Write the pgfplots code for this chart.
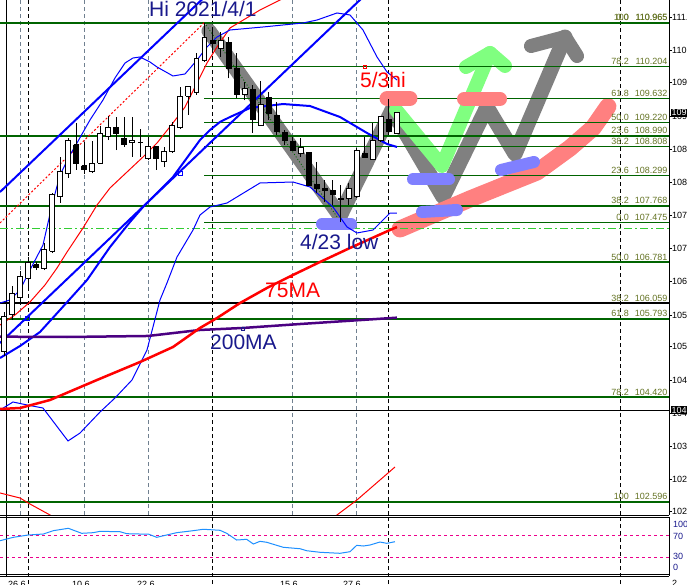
\documentclass[border=0pt]{standalone}
\usepackage{fontspec}
\setmainfont{Liberation Sans}
\usepackage{pgfplots}
\usepackage{pgfplotstable}
\pgfplotsset{compat=1.18}

\definecolor{dgreen}{RGB}{0,100,0}
\definecolor{fibtxt}{RGB}{100,115,35}
\definecolor{navytxt}{RGB}{25,25,140}
\definecolor{indigo}{RGB}{75,0,130}
\definecolor{slate}{RGB}{112,128,144}
\definecolor{lime}{RGB}{50,205,50}
\definecolor{rsiblue}{RGB}{30,144,255}
\definecolor{strokegray}{RGB}{128,128,128}
\definecolor{strokegreen}{RGB}{128,255,128}
\definecolor{strokered}{RGB}{255,128,128}
\definecolor{strokeblue}{RGB}{128,128,255}

% bar index, open, high, low, close
\pgfplotstableread{
i o h l c
0 105.215 105.909 105.140 105.827
1 105.857 106.364 105.769 106.241
2 106.154 106.626 106.032 106.521
3 106.503 106.870 106.346 106.766
4 106.731 106.783 106.643 106.678
5 106.661 107.115 106.643 107.010
6 106.975 107.990 106.940 107.971
7 107.919 108.618 107.814 108.373
8 108.321 108.950 108.251 108.915
9 108.828 109.212 108.391 108.496
10 108.461 108.880 108.321 108.391
11 108.356 108.898 108.338 108.496
12 108.513 109.160 108.496 109.020
13 108.968 109.335 108.915 109.125
14 109.142 109.317 108.740 109.020
15 108.950 109.317 108.793 108.845
16 108.863 109.317 108.618 108.898
17 108.868 109.107 108.618 108.868
18 108.583 108.968 108.566 108.810
19 108.793 108.810 108.391 108.583
20 108.531 108.793 108.443 108.706
21 108.706 109.230 108.688 109.160
22 109.125 109.842 109.107 109.667
23 109.684 109.859 109.352 109.842
24 109.737 110.436 109.702 110.348
25 110.313 110.965 110.278 110.698
26 110.651 110.895 110.488 110.605
27 110.518 110.808 110.371 110.651
28 110.616 110.721 109.994 110.168
29 110.168 110.430 109.649 109.719
30 109.719 109.934 109.614 109.819
31 109.789 109.876 109.038 109.265
32 109.177 109.946 109.160 109.527
33 109.661 109.759 109.265 109.382
34 109.347 109.585 109.003 109.060
35 109.038 109.090 108.828 108.915
36 108.886 108.973 108.723 108.728
37 108.683 108.945 108.623 108.788
38 108.700 108.705 108.111 108.117
39 108.129 108.536 107.984 108.071
40 108.071 108.216 107.837 108.029
41 108.041 108.216 107.779 107.971
42 107.896 108.129 107.475 107.867
43 107.896 108.159 107.779 108.071
44 107.924 108.770 107.902 108.740
45 108.671 108.962 108.601 108.613
46 108.578 109.207 108.566 108.915
47 108.915 109.322 108.886 109.322
48 109.265 109.632 109.003 109.060
49 109.032 109.405 109.020 109.392
}\candles

\pgfplotstableread{
i v
-0.50 60.7
1.16 67.0
3.03 71.3
4.90 73.1
6.15 79.3
8.02 83.7
9.69 74.4
11.13 75.6
11.97 78.1
14.46 77.4
15.30 73.7
16.96 73.1
17.99 73.1
19.04 67.0
20.29 71.3
21.53 75.6
23.60 79.3
24.85 81.9
26.93 80.0
27.77 74.4
29.01 62.0
30.26 63.3
31.09 54.6
31.92 59.6
32.76 57.8
34.00 52.2
34.83 48.5
36.91 45.9
37.74 42.2
39.40 39.3
41.90 37.4
43.14 40.4
43.98 52.2
44.80 50.9
45.64 52.8
46.88 58.3
47.72 55.9
48.13 57.0
48.75 58.9
}\rsi

\pgfplotsset{
  hl/.style={dgreen, line width=2pt},
  hlt/.style={dgreen, line width=1pt},
  stroke/.style={line width=#1, line cap=round, line join=round},
  vgray/.style={slate, line width=1pt, dash pattern=on 4pt off 3pt},
  vblack/.style={black, line width=1pt, dash pattern=on 4pt off 3pt},
}
\newcommand\lblfont{\fontsize{9}{10}\selectfont}
\newcommand\bigfont{\fontsize{21}{24}\selectfont}

\begin{document}
\begin{tikzpicture}
\path[use as bounding box] (0pt,0pt) rectangle (687pt,584pt);
\fill[white] (0pt,0pt) rectangle (687pt,584pt);

\begin{axis}[
  at={(0pt,69pt)}, anchor=south west,
  scale only axis, width=669pt, height=515pt,
  xmin=-0.5, xmax=82.92, ymin=102.361, ymax=111.362,
  axis x line=none, axis y line*=right,
  y axis line style={black, line width=1pt, -},
  xtick=\empty,
  ytick={111.060,110.488,109.917,109.335,108.753,108.169,107.605,107.022,106.439,105.857,105.303,104.721,104.144,103.555,102.985,102.419},
  yticklabel style={font=\lblfont, black, anchor=west, inner sep=0pt,
    /pgf/number format/.cd, fixed, fixed zerofill, precision=3, assume math mode=true},
  tick style={black, line width=0.8pt},
  tick align=outside, major tick length=3pt,
  clip mode=individual,
]
% period separators
\addplot[vgray] coordinates {(2.08,102.361) (2.08,111.362)};
\addplot[vgray] coordinates {(10.01,102.361) (10.01,111.362)};
\addplot[vgray] coordinates {(17.99,102.361) (17.99,111.362)};
\addplot[vgray] coordinates {(35.95,102.361) (35.95,111.362)};
\addplot[vgray] coordinates {(43.93,102.361) (43.93,111.362)};
\addplot[vblack] coordinates {(3.03,102.361) (3.03,111.362)};
\addplot[vblack] coordinates {(25.97,102.361) (25.97,111.362)};
\addplot[vblack] coordinates {(47.92,102.361) (47.92,111.362)};
\addplot[vblack] coordinates {(76.89,102.361) (76.89,111.362)};
\addplot[black, line width=1pt] coordinates {(0.34,102.361) (0.34,111.362)};

% hand drawn strokes
\addplot[strokegray, stroke=15pt] coordinates {(25.56,110.820) (41.90,107.587) (48.38,109.440) (54.74,107.919) (60.22,109.492) (63.72,108.671) (69.95,110.715)};
\addplot[strokegray, stroke=14pt] coordinates {(65.71,110.558) (69.95,110.715) (71.45,110.383)};
\addplot[strokegreen, stroke=14pt] coordinates {(48.88,109.440) (54.61,108.461) (60.60,110.436)};
\addplot[strokegreen, stroke=14pt] coordinates {(57.61,110.191) (60.60,110.436) (62.47,110.209)};
\addplot[strokered, stroke=17pt] coordinates {(49.38,107.360) (58.10,107.884) (66.46,108.356) (70.57,108.775) (73.44,109.125) (75.30,109.500)};

% fibonacci levels
\addplot[hl] coordinates {(-0.5,110.965) (82.92,110.965)};
\addplot[hl] coordinates {(-0.5,108.990) (82.92,108.990)};
\addplot[hl] coordinates {(-0.5,107.768) (82.92,107.768)};
\addplot[hl] coordinates {(-0.5,106.781) (82.92,106.781)};
\addplot[hl] coordinates {(-0.5,105.793) (82.92,105.793)};
\addplot[hl] coordinates {(-0.5,104.420) (82.92,104.420)};
\addplot[hl] coordinates {(-0.5,102.596) (82.92,102.596)};
\addplot[black, line width=2pt] coordinates {(-0.5,106.059) (82.92,106.059)};
\addplot[black, line width=1pt] coordinates {(-0.5,104.196) (82.92,104.196)};
\addplot[hlt] coordinates {(24.94,110.204) (82.92,110.204)};
\addplot[hlt] coordinates {(24.94,109.632) (82.92,109.632)};
\addplot[hlt] coordinates {(24.94,109.220) (82.92,109.220)};
\addplot[hlt] coordinates {(24.94,108.808) (82.92,108.808)};
\addplot[hlt] coordinates {(24.94,108.299) (82.92,108.299)};
\addplot[hlt] coordinates {(24.94,107.475) (82.92,107.475)};
\addplot[lime, line width=1pt, dash pattern=on 8pt off 3pt on 2pt off 3pt] coordinates {(-0.5,107.372) (82.92,107.372)};
\addplot[dgreen, line width=0.8pt, dash pattern=on 1pt off 2pt] coordinates {(25,110.965) (42,107.475)};

% pills
\addplot[strokered, stroke=15pt] coordinates {(47.76,109.641) (50.62,109.641)};
\addplot[strokered, stroke=14pt] coordinates {(57.36,109.632) (61.85,109.632)};
\addplot[strokeblue, stroke=12pt] coordinates {(39.65,107.447) (43.27,107.447)};
\addplot[strokeblue, stroke=12pt] coordinates {(51.00,108.225) (55.49,108.225)};
\addplot[strokeblue, stroke=12pt] coordinates {(52.12,107.657) (56.48,107.692)};
\addplot[strokeblue, stroke=12pt] coordinates {(61.97,108.391) (66.08,108.531)};

% indicators
\addplot[red, line width=1pt, dash pattern=on 2pt off 2pt] coordinates {(-0.5,107.465) (25.06,110.978)};
\addplot[red, line width=1pt] coordinates {(-0.50,105.682) (1.37,105.857) (3.24,106.084) (5.11,106.381) (6.61,106.678) (7.86,106.958) (9.85,107.377) (11.60,107.779) (13.22,108.077) (15.34,108.356) (17.33,108.618) (19.08,108.863) (21.07,109.212) (22.57,109.492) (24.07,109.911) (25.31,110.261) (26.56,110.541) (28.18,110.873) (31.92,111.187) (35.66,111.449)};
\addplot[red, line width=1pt] coordinates {(-0.50,102.746) (2.00,102.658) (3.24,102.553) (5.74,102.361) (6.98,102.239)};
\addplot[red, line width=1pt] coordinates {(40.65,102.274) (41.52,102.361) (44.01,102.624) (48.75,103.200)};
% bollinger bands
\addplot[blue, line width=1pt] coordinates {(-0.50,106.066) (0.75,106.119) (2.00,106.294) (3.24,106.643) (4.86,107.080) (5.99,107.779) (6.98,108.304) (8.23,108.653) (9.10,108.863) (10.72,109.265) (12.34,109.614) (13.84,110.000) (15.09,110.261) (16.08,110.348) (16.96,110.366) (18.20,110.278) (19.08,110.191) (21.07,110.034) (22.57,110.069) (24.07,110.313) (25.31,110.541) (26.56,110.715) (28.18,110.838) (32.29,110.890) (37.28,110.960) (39.03,111.012) (41.52,111.135) (43.14,111.100) (44.76,110.838) (46.51,110.366) (47.76,110.104) (49.00,109.964)};
\addplot[blue, line width=1pt] coordinates {(-0.50,104.196) (1.12,104.336) (2.87,104.284) (4.86,104.231) (7.98,103.655) (9.48,103.794) (11.97,104.161) (13.84,104.406) (15.96,104.721) (17.83,105.245) (19.45,106.119) (20.32,106.416) (21.57,106.870) (23.57,107.342) (24.44,107.604) (25.69,107.744) (27.81,107.814) (31.92,108.164) (36.03,108.181) (38.15,108.094) (41.02,107.744) (42.77,107.395) (44.01,107.290) (46.01,107.342) (48.13,107.639) (49.00,107.639)};
\addplot[blue, line width=2pt] coordinates {(-0.50,105.105) (2.00,105.315) (4.49,105.560) (6.98,105.944) (10.35,106.468) (13.22,107.045) (15.71,107.482) (17.33,107.744) (21.07,108.269) (24.44,108.915) (25.69,109.090) (26.93,109.230) (28.18,109.317) (30.67,109.474) (34.79,109.544) (38.15,109.509) (41.90,109.317) (45.26,109.038) (47.76,108.845) (49.00,108.793)};
% channel
\addplot[blue, line width=2pt] coordinates {(-0.5,108.006) (26,111.546)};
\addplot[blue, line width=2pt] coordinates {(-0.5,105.367) (46,111.579)};
% moving averages
\addplot[indigo, line width=2.5pt] coordinates {(-0.5,105.478) (7.86,105.472) (17.96,105.490) (24.44,105.595) (29.80,105.630) (36.91,105.699) (49.0,105.810)};
\addplot[red, line width=2.5pt] coordinates {(-0.50,104.214) (2.00,104.231) (5.74,104.371) (11.60,104.721) (16.96,105.035) (21.07,105.297) (24.44,105.630) (26.56,105.804) (29.43,106.066) (32.79,106.329) (36.03,106.556) (39.40,106.783) (43.14,107.028) (48.13,107.342) (49.00,107.395)};

% candles
\pgfplotstablegetrowsof{\candles}
\pgfmathtruncatemacro{\nlast}{\pgfplotsretval-1}
\pgfplotsforeachungrouped \r in {0,...,\nlast}{%
  \pgfplotstablegetelem{\r}{i}\of\candles \let\ci\pgfplotsretval
  \pgfplotstablegetelem{\r}{o}\of\candles \let\co\pgfplotsretval
  \pgfplotstablegetelem{\r}{h}\of\candles \let\ch\pgfplotsretval
  \pgfplotstablegetelem{\r}{l}\of\candles \let\cl\pgfplotsretval
  \pgfplotstablegetelem{\r}{c}\of\candles \let\cc\pgfplotsretval
  \ifdim\cc pt<\co pt \def\cf{black}\else\def\cf{white}\fi
  \pgfmathsetmacro{\xa}{\ci-0.31}%
  \pgfmathsetmacro{\xb}{\ci+0.31}%
  \edef\tmp{%
    \noexpand\addplot[black, line width=1pt] coordinates {(\ci,\cl) (\ci,\ch)};
    \noexpand\addplot[draw=black, fill=\cf, line width=1pt] coordinates {(\xa,\co) (\xb,\co) (\xb,\cc) (\xa,\cc) (\xa,\co)};
  }\tmp
}

% anchor marks
\addplot[blue, only marks, mark=square, mark size=2pt, line width=1pt] coordinates {(2.99,105.804) (21.95,108.338)};
\addplot[red, only marks, mark=square, mark size=1.2pt, line width=0.8pt] coordinates {(45.01,110.191) (35.87,106.526)};
\addplot[navytxt, only marks, mark=square, mark size=1.2pt, line width=0.8pt] coordinates {(29.80,105.612)};

% fibonacci labels
\foreach \lv/\pr in {100/110.965, 0.0/110.965, 78.2/110.204, 61.8/109.632, 50.0/109.220, 23.6/108.990, 38.2/108.808, 23.6/108.299, 38.2/107.768, 0.0/107.475, 50.0/106.781, 38.2/106.059, 61.8/105.793, 78.2/104.420, 100/102.596}{
  \edef\tmp{\noexpand\node[font=\noexpand\lblfont, text=fibtxt, anchor=base east, inner sep=0pt, yshift=2pt] at (axis cs:77.93,\pr) {\lv};
  \noexpand\node[font=\noexpand\lblfont, text=fibtxt, anchor=base east, inner sep=0pt, yshift=2pt] at (axis cs:82.75,\pr) {\pr};}\tmp
}
% price boxes
\node[font=\lblfont, fill=black, text=white, anchor=west, inner sep=1pt, xshift=1.5pt] at (axis cs:82.92,109.392) {109.392};
\node[font=\lblfont, fill=black, text=white, anchor=west, inner sep=1pt, xshift=1.5pt] at (axis cs:82.92,104.196) {104.196};
\end{axis}

% RSI window
\begin{axis}[
  at={(0pt,10pt)}, anchor=south west,
  scale only axis, width=669pt, height=57pt,
  xmin=-0.5, xmax=82.92, ymin=-0.9, ymax=104.6,
  hide axis, clip=false,
]
\addplot[magenta, line width=1pt, dash pattern=on 3pt off 3pt] coordinates {(-0.5,70) (82.92,70)};
\addplot[magenta, line width=1pt, dash pattern=on 3pt off 3pt] coordinates {(-0.5,30) (82.92,30)};
\addplot[vblack] coordinates {(3.03,-19.5) (3.03,108.3)};
\addplot[vblack] coordinates {(25.97,-19.5) (25.97,108.3)};
\addplot[vblack] coordinates {(47.92,-19.5) (47.92,108.3)};
\addplot[vblack] coordinates {(76.89,-19.5) (76.89,108.3)};
\addplot[black, line width=1pt] coordinates {(0.34,-4.6) (0.34,108.3)};
\addplot[rsiblue, line width=1pt] table[x=i, y=v] {\rsi};
\end{axis}

% window frames
\draw[black, line width=1pt] (0pt,69pt) -- (669pt,69pt);
\draw[black, line width=1pt] (0pt,67pt) -- (669pt,67pt);
\draw[black, line width=1pt] (0pt,10pt) -- (669pt,10pt);
\draw[black, line width=1pt] (0pt,8pt) -- (669pt,8pt);
\draw[black, line width=1pt] (669pt,8pt) -- (669pt,67pt);

% RSI scale
\node[font=\lblfont, text=navytxt, anchor=west, inner sep=0pt] at (673pt,59.5pt) {100};
\node[font=\lblfont, text=navytxt, anchor=west, inner sep=0pt] at (673pt,48pt) {70};
\node[font=\lblfont, text=navytxt, anchor=west, inner sep=0pt] at (673pt,27.5pt) {30};
\node[font=\lblfont, text=navytxt, anchor=west, inner sep=0pt] at (673pt,17pt) {0};
\node[font=\lblfont, anchor=north west, inner sep=0pt] at (672pt,4pt) {2};

% time scale
\foreach \x/\t in {8/26 6, 72/10 6, 137/22 6, 280/15 6, 343/27 6}
  \node[font=\lblfont, anchor=north west, inner sep=0pt] at (\x pt,3pt) {\t};

% annotations
\node[font=\bigfont, text=navytxt, anchor=base west, inner sep=0pt] at (149pt,567pt) {Hi 2021/4/1};
\node[font=\bigfont, text=red, anchor=base west, inner sep=0pt] at (360pt,496pt) {5/3hi};
\node[font=\bigfont, text=navytxt, anchor=base west, inner sep=0pt] at (300pt,334pt) {4/23 low};
\node[font=\bigfont, text=red, anchor=base west, inner sep=0pt] at (265pt,286pt) {75MA};
\node[font=\bigfont, text=navytxt, anchor=base west, inner sep=0pt] at (210pt,235pt) {200MA};
\end{tikzpicture}
\end{document}
